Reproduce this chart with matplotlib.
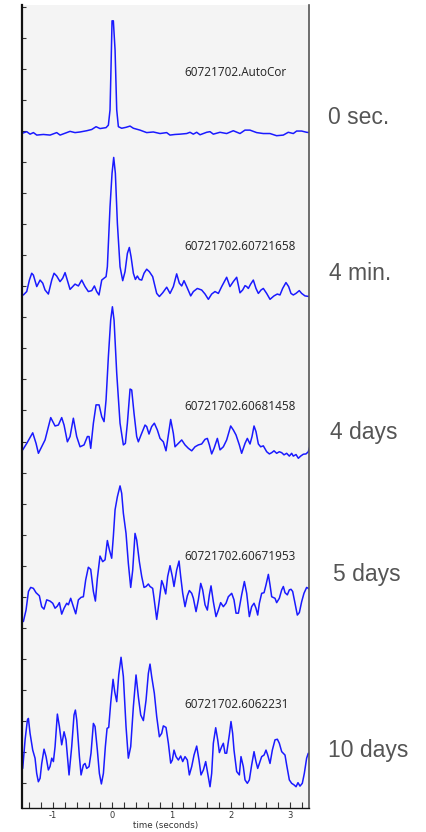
import matplotlib
matplotlib.use('Agg')
import matplotlib.pyplot as plt
from matplotlib.ticker import MultipleLocator

plt.rcParams['axes.unicode_minus'] = False

# each trace: time (s) and correlation value relative to its own baseline
T_AUTOCOR = [-1.519, -1.445, -1.389, -1.332, -1.276, -1.164, -1.051, -0.939, -0.882, -0.770,
             -0.714, -0.630, -0.545, -0.433, -0.348, -0.275, -0.208, -0.106, -0.067, -0.039,
             -0.022, -0.005, 0.017, 0.046, 0.074, 0.102, 0.158, 0.231, 0.299, 0.355,
             0.467, 0.580, 0.692, 0.805, 0.917, 0.973, 1.058, 1.142, 1.255, 1.311,
             1.367, 1.424, 1.480, 1.592, 1.649, 1.705, 1.817, 1.930, 2.042, 2.155,
             2.239, 2.323, 2.436, 2.548, 2.661, 2.773, 2.886, 2.970, 3.055, 3.111,
             3.195, 3.280, 3.325]
V_AUTOCOR = [-0.07, -0.02, -0.10, -0.05, -0.13, -0.11, -0.13, -0.05, -0.13, -0.05,
             -0.01, -0.05, -0.03, 0.01, 0.05, 0.14, 0.08, 0.11, 0.19, 0.68,
             2.07, 3.55, 3.55, 2.61, 0.68, 0.14, 0.09, 0.12, 0.16, 0.09,
             0.03, -0.05, -0.03, -0.08, -0.05, -0.13, -0.11, -0.10, -0.08, -0.04,
             -0.10, -0.04, -0.12, -0.04, -0.02, -0.10, -0.04, -0.08, 0.01, -0.08,
             0.03, 0.03, -0.05, -0.08, -0.08, -0.15, -0.13, -0.04, -0.08, 0.00,
             0.00, -0.04, -0.05]

T_4MIN = [-1.502, -1.445, -1.400, -1.361, -1.333, -1.276, -1.220, -1.175, -1.136, -1.080,
          -1.023, -0.984, -0.939, -0.883, -0.838, -0.798, -0.770, -0.714, -0.669, -0.630,
          -0.573, -0.517, -0.461, -0.405, -0.348, -0.303, -0.264, -0.225, -0.179, -0.140,
          -0.106, -0.084, -0.039, -0.005, 0.023, 0.051, 0.085, 0.130, 0.175, 0.214,
          0.254, 0.287, 0.316, 0.355, 0.389, 0.422, 0.456, 0.496, 0.535, 0.580,
          0.625, 0.681, 0.721, 0.749, 0.794, 0.850, 0.918, 0.974, 1.030, 1.086,
          1.131, 1.171, 1.210, 1.255, 1.323, 1.368, 1.435, 1.508, 1.565, 1.621,
          1.677, 1.733, 1.790, 1.846, 1.930, 1.986, 2.042, 2.099, 2.155, 2.200,
          2.240, 2.268, 2.296, 2.335, 2.380, 2.425, 2.465, 2.510, 2.549, 2.605,
          2.662, 2.729, 2.785, 2.830, 2.875, 2.931, 2.976, 3.016, 3.055, 3.100,
          3.156, 3.196, 3.252, 3.325]
V_4MIN = [-0.28, -0.17, 0.20, 0.42, 0.36, -0.01, 0.20, 0.10, -0.12, -0.25,
          0.20, 0.42, 0.33, 0.15, 0.26, 0.44, 0.26, -0.10, -0.01, 0.07,
          0.01, 0.20, -0.01, -0.17, -0.14, 0.01, -0.17, -0.28, 0.20, 0.26,
          0.31, 0.63, 2.56, 3.64, 4.15, 3.64, 2.03, 0.63, 0.18, 0.47,
          1.06, 1.25, 0.95, 0.42, 0.22, 0.33, 0.22, 0.20, 0.42, 0.55,
          0.47, 0.31, -0.01, -0.23, -0.33, -0.21, -0.03, -0.23, -0.01, 0.40,
          0.10, 0.01, 0.18, -0.01, -0.31, -0.17, -0.07, -0.12, -0.25, -0.42,
          -0.25, -0.17, -0.23, -0.01, 0.29, -0.01, 0.15, 0.29, -0.21, -0.12,
          0.02, -0.01, -0.07, 0.07, 0.20, -0.07, -0.23, -0.12, -0.07, -0.23,
          -0.42, -0.31, -0.25, -0.28, -0.07, 0.12, -0.01, -0.23, -0.28, -0.23,
          -0.14, -0.23, -0.31, -0.33]

T_4DAYS = [-1.513, -1.445, -1.344, -1.288, -1.248, -1.136, -1.040, -0.967, -0.911, -0.855,
           -0.815, -0.759, -0.714, -0.658, -0.602, -0.545, -0.478, -0.421, -0.393, -0.365,
           -0.320, -0.275, -0.224, -0.179, -0.140, -0.106, -0.067, -0.028, 0.001, 0.029,
           0.074, 0.130, 0.186, 0.220, 0.254, 0.299, 0.327, 0.366, 0.411, 0.439,
           0.484, 0.552, 0.580, 0.619, 0.664, 0.709, 0.760, 0.805, 0.861, 0.906,
           0.985, 1.030, 1.058, 1.115, 1.171, 1.227, 1.284, 1.340, 1.396, 1.452,
           1.508, 1.565, 1.604, 1.638, 1.677, 1.717, 1.773, 1.818, 1.874, 1.930,
           1.998, 2.043, 2.088, 2.144, 2.183, 2.240, 2.279, 2.324, 2.358, 2.392,
           2.425, 2.465, 2.504, 2.549, 2.606, 2.651, 2.690, 2.729, 2.774, 2.819,
           2.859, 2.898, 2.943, 2.988, 3.027, 3.055, 3.101, 3.140, 3.179, 3.224,
           3.269, 3.308, 3.337]
V_4DAYS = [-0.27, -0.06, 0.28, -0.06, -0.38, 0.05, 0.77, 0.50, 0.53, 0.77,
           0.53, -0.01, 0.16, 0.75, 0.16, -0.17, -0.11, 0.16, 0.16, -0.22,
           0.59, 1.18, 1.18, 0.80, 0.64, 1.34, 2.73, 3.91, 4.34, 3.91,
           2.20, 0.59, -0.11, -0.06, 0.59, 1.69, 1.66, 0.91, 0.16, -0.01,
           0.21, 0.53, 0.48, 0.24, 0.48, 0.59, 0.37, 0.10, -0.01, -0.30,
           0.71, 0.26, -0.17, -0.06, 0.05, -0.11, -0.22, -0.30, -0.17, -0.11,
           -0.08, 0.07, 0.10, -0.11, -0.40, -0.22, 0.10, -0.27, -0.17, 0.05,
           0.50, 0.37, 0.21, -0.11, -0.38, -0.06, 0.10, -0.08, 0.16, 0.50,
           0.32, -0.08, -0.17, -0.14, -0.33, -0.40, -0.36, -0.30, -0.38, -0.33,
           -0.36, -0.43, -0.38, -0.47, -0.38, -0.47, -0.42, -0.54, -0.47, -0.41,
           -0.40, -0.33, -0.14]

T_5DAYS = [-1.502, -1.457, -1.416, -1.378, -1.333, -1.288, -1.232, -1.193, -1.154, -1.108,
           -1.052, -1.006, -0.967, -0.928, -0.894, -0.855, -0.815, -0.770, -0.742, -0.703,
           -0.658, -0.618, -0.573, -0.528, -0.489, -0.450, -0.405, -0.365, -0.320, -0.286,
           -0.253, -0.208, -0.163, -0.123, -0.084, -0.050, -0.011, 0.017, 0.046, 0.085,
           0.130, 0.158, 0.186, 0.231, 0.270, 0.310, 0.344, 0.383, 0.411, 0.456,
           0.496, 0.535, 0.569, 0.608, 0.636, 0.681, 0.704, 0.749, 0.794, 0.833,
           0.861, 0.901, 0.934, 0.974, 1.013, 1.041, 1.086, 1.126, 1.154, 1.188,
           1.227, 1.266, 1.300, 1.340, 1.368, 1.413, 1.452, 1.492, 1.525, 1.565,
           1.604, 1.638, 1.666, 1.705, 1.750, 1.790, 1.829, 1.874, 1.919, 1.958,
           2.015, 2.054, 2.088, 2.128, 2.183, 2.229, 2.268, 2.313, 2.352, 2.392,
           2.425, 2.454, 2.482, 2.521, 2.561, 2.594, 2.634, 2.662, 2.690, 2.746,
           2.774, 2.819, 2.859, 2.887, 2.915, 2.954, 2.988, 3.016, 3.044, 3.084,
           3.123, 3.157, 3.196, 3.235, 3.280, 3.308, 3.337]
V_5DAYS = [-0.80, -0.43, 0.17, 0.30, 0.27, 0.13, 0.03, -0.32, -0.40, -0.10,
           -0.14, -0.21, -0.37, -0.30, -0.19, -0.56, -0.37, -0.21, -0.26, -0.05,
           -0.32, -0.55, -0.10, -0.02, 0.00, 0.54, 0.95, 0.88, 0.17, -0.14,
           0.59, 1.31, 1.13, 1.19, 1.81, 1.51, 1.24, 1.94, 2.80, 3.22,
           3.57, 3.33, 2.69, 2.04, 1.08, 0.30, 0.86, 2.04, 1.83, 1.13,
           0.65, 0.30, 0.33, 0.41, 0.33, 0.27, -0.05, -0.73, -0.10, 0.52,
           0.38, 0.09, 0.65, 1.00, 0.65, 0.33, 0.86, 1.15, 0.65, 0.11,
           -0.32, 0.03, 0.20, 0.11, -0.05, -0.48, -0.10, 0.43, 0.22, -0.26,
           -0.43, 0.06, 0.35, -0.16, -0.64, -0.43, -0.19, -0.32, -0.21, 0.00,
           0.11, -0.10, -0.53, -0.53, 0.06, 0.49, 0.11, -0.64, -0.32, -0.21,
           -0.37, -0.59, -0.21, 0.11, 0.13, 0.38, 0.72, 0.38, 0.00, -0.05,
           -0.19, -0.05, 0.22, 0.33, 0.13, 0.06, 0.22, 0.24, 0.17, -0.21,
           -0.59, -0.51, -0.16, 0.11, 0.30, 0.27, 0.22]

T_10DAYS = [-1.513, -1.473, -1.434, -1.417, -1.389, -1.344, -1.305, -1.277, -1.249, -1.220,
            -1.192, -1.153, -1.119, -1.080, -1.052, -1.023, -0.995, -0.967, -0.928, -0.894,
            -0.855, -0.815, -0.782, -0.731, -0.686, -0.647, -0.624, -0.601, -0.556, -0.528,
            -0.489, -0.461, -0.433, -0.393, -0.360, -0.320, -0.292, -0.253, -0.219, -0.185,
            -0.151, -0.118, -0.089, -0.061, -0.028, 0.012, 0.040, 0.074, 0.108, 0.147,
            0.186, 0.231, 0.270, 0.310, 0.355, 0.400, 0.439, 0.479, 0.524, 0.569,
            0.608, 0.636, 0.664, 0.709, 0.749, 0.794, 0.833, 0.861, 0.906, 0.946,
            0.985, 1.013, 1.041, 1.075, 1.115, 1.154, 1.188, 1.227, 1.266, 1.300,
            1.340, 1.379, 1.424, 1.463, 1.497, 1.537, 1.576, 1.610, 1.649, 1.677,
            1.705, 1.745, 1.779, 1.807, 1.846, 1.874, 1.902, 1.930, 1.975, 2.003,
            2.031, 2.054, 2.099, 2.144, 2.172, 2.211, 2.240, 2.279, 2.313, 2.352,
            2.392, 2.425, 2.454, 2.482, 2.521, 2.561, 2.594, 2.623, 2.662, 2.701,
            2.746, 2.786, 2.819, 2.859, 2.915, 2.943, 2.988, 3.027, 3.067, 3.101,
            3.134, 3.168, 3.207, 3.241, 3.280, 3.308, 3.337]
V_10DAYS = [-0.53, 0.39, 1.03, 1.08, 0.60, 0.06, -0.20, -0.69, -0.96, -0.85,
            -0.37, 0.09, -0.15, -0.58, -0.47, -0.20, -0.31, 0.17, 1.22, 0.82,
            0.23, 0.65, 0.39, -0.74, 0.17, 1.19, 1.35, 1.03, -0.15, -0.74,
            -0.42, -0.37, -0.53, -0.47, -0.04, 0.92, 0.82, 0.06, -0.69, -1.03,
            -0.69, 0.17, 0.76, 0.79, 1.57, 2.34, 1.94, 1.62, 2.48, 3.05,
            2.43, 0.82, -0.20, 0.17, 1.46, 2.48, 1.78, 1.19, 1.01, 1.67,
            2.53, 2.83, 2.43, 1.89, 1.14, 0.49, 0.60, 0.84, 0.79, 0.28,
            -0.36, -0.26, 0.06, -0.15, -0.26, -0.13, -0.31, -0.15, -0.26, -0.74,
            -0.47, -0.10, 0.19, -0.26, -0.74, -0.58, -0.31, -0.69, -1.12, -0.69,
            0.28, 0.78, 0.39, -0.02, 0.17, 0.28, -0.04, -0.04, 0.55, 0.98,
            0.60, 0.06, -0.63, -0.74, -0.15, -0.47, -0.90, -1.01, -0.90, -0.42,
            0.01, -0.31, -0.53, -0.37, -0.15, -0.10, 0.06, -0.10, -0.37, 0.06,
            0.39, 0.41, 0.28, 0.01, -0.10, -0.42, -0.90, -1.01, -1.06, -1.12,
            -0.99, -1.10, -1.01, -0.69, -0.20, -0.04, -0.10]

PAIR_NAMES = ['60721702.AutoCor', '60721702.60721658', '60721702.60681458',
              '60721702.60671953', '60721702.6062231']
DELAYS = ['0 sec.', '4 min.', '4 days', '5 days', '10 days']
BASELINES = [21, 16, 11, 6, 1]

TRACES = [(T_AUTOCOR, V_AUTOCOR), (T_4MIN, V_4MIN), (T_4DAYS, V_4DAYS),
          (T_5DAYS, V_5DAYS), (T_10DAYS, V_10DAYS)]

W, H = 427, 832
fig = plt.figure(figsize=(W / 100, H / 100), dpi=100)
ax = fig.add_axes([22.3 / W, 24 / H, (309 - 22.3) / W, (808 - 5) / H])
ax.set_facecolor('#f4f4f4')

for (t, v), base in zip(TRACES, BASELINES):
    ax.plot(t, [base + x for x in v], color='#1a1aff', linewidth=1.1,
            solid_joinstyle='round', solid_capstyle='round')

# name of each pair, and the time between the two events (outside, right)
label_lift = [1.87, 1.29, 1.14, 1.31, 1.54]
delay_y = [117, 273, 432, 575, 751]
delay_x = [328, 329, 330, 333, 328]
for name, base, lift in zip(PAIR_NAMES, BASELINES, label_lift):
    ax.text(1.21, base + lift, name, fontsize=8.5, family='Open Sans',
            color='#222222', va='center', ha='left')
for text, x, y in zip(DELAYS, delay_x, delay_y):
    fig.text(x / W, 1 - y / H, text, fontsize=16.5, family='Liberation Sans',
             color='#555555', va='center', ha='left')

ax.set_xlim(-1.52, 3.32)
ax.set_ylim(-0.805, 25.06)
ax.xaxis.set_major_locator(MultipleLocator(1))
ax.xaxis.set_minor_locator(MultipleLocator(0.2))
ax.yaxis.set_major_locator(MultipleLocator(1))
ax.tick_params(axis='y', direction='in', length=3, width=0.8, color='#333333',
               labelleft=False)
ax.tick_params(axis='x', which='both', direction='in', length=4, width=0.8,
               color='#333333', labelsize=6, labelcolor='#333333', pad=2)
ax.set_xlabel('time (seconds)', fontsize=6.3, color='#333333', labelpad=1)

ax.spines['top'].set_visible(False)
ax.spines['left'].set_linewidth(1.6)
ax.spines['left'].set_color('#111111')
ax.spines['bottom'].set_linewidth(1.0)
ax.spines['bottom'].set_color('#111111')
ax.spines['right'].set_linewidth(1.2)
ax.spines['right'].set_color('#555555')

fig.savefig('out.png', dpi=100, facecolor='white')
